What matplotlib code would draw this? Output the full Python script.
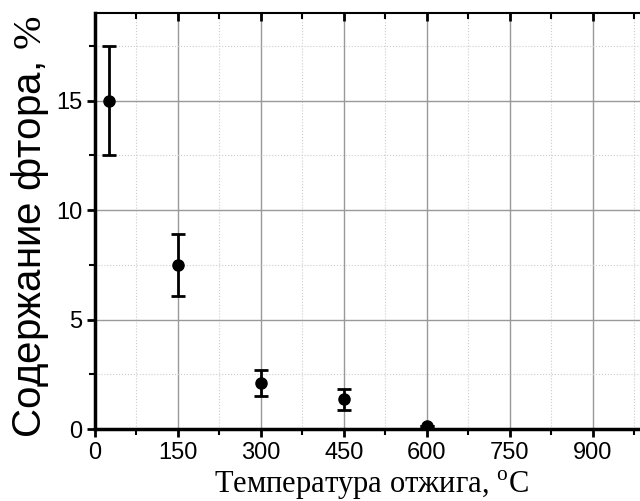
import matplotlib.pyplot as plt
from matplotlib.ticker import MultipleLocator

plt.rcParams['font.family'] = ['Liberation Sans', 'DejaVu Sans']
plt.rcParams['mathtext.fontset'] = 'custom'
plt.rcParams['mathtext.rm'] = 'Liberation Serif'

# annealing temperature, fluorine content, error
temps = [25, 150, 300, 450, 600]
fluorine = [15.0, 7.5, 2.1, 1.35, 0.15]
errors = [2.5, 1.4, 0.6, 0.5, 0.0]

fig = plt.figure(figsize=(6.4, 5.01), dpi=100)
ax = fig.add_axes([0.1484, 0.1437, 0.864, 0.830])

ax.errorbar(temps, fluorine, yerr=errors, fmt='o', color='black', markersize=8,
            elinewidth=2, capsize=5, capthick=2, zorder=2)

ax.set_xlim(0, 1000)
ax.set_ylim(0, 19)
ax.xaxis.set_major_locator(MultipleLocator(150))
ax.xaxis.set_minor_locator(MultipleLocator(75))
ax.yaxis.set_major_locator(MultipleLocator(5))
ax.yaxis.set_minor_locator(MultipleLocator(2.5))

ax.grid(which='major', color='#999999', linewidth=1.0, linestyle='-')
ax.grid(which='minor', color='#cccccc', linewidth=0.8, linestyle=':')
ax.set_axisbelow(True)

for side in ['left', 'bottom']:
    ax.spines[side].set_linewidth(2.5)
    ax.spines[side].set_zorder(3)
ax.spines['top'].set_linewidth(1.5)
ax.spines['right'].set_visible(False)

ax.tick_params(which='major', direction='out', length=6, width=2, labelsize=17,
               top=True, right=False, pad=3)
ax.tick_params(which='minor', direction='out', length=4, width=1.5, top=True)
# top ticks point into the plot
for t in ax.xaxis.get_major_ticks() + ax.xaxis.get_minor_ticks():
    t.tick2line.set_marker(3)

ax.set_ylabel('Содержание фтора, $\\mathrm{\\%}$', fontsize=29, labelpad=4)
ax.yaxis.label.set_y(0.486)
ax.set_xlabel('Температура отжига, $^{\\mathrm{o}}$C', fontsize=22,
              family='Liberation Serif', labelpad=4)

plt.savefig('out.png', dpi=100)
